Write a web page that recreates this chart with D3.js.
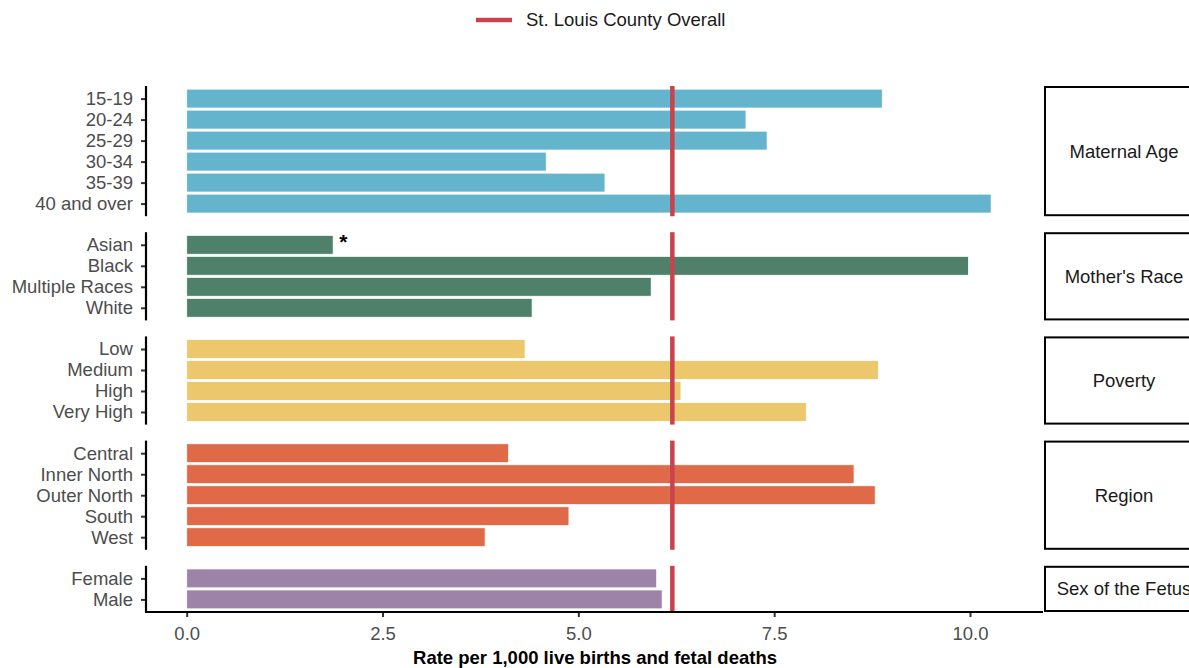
<!DOCTYPE html>
<html><head><meta charset="utf-8">
<script src="https://cdn.jsdelivr.net/npm/d3@7"></script>
<style>body{margin:0;background:#fff}svg{display:block;font-family:"Liberation Sans",Arial,sans-serif}</style>
</head><body>
<svg id="c" width="1189" height="668"></svg>
<script>
const groups = ["Maternal Age","Mother's Race","Poverty","Region","Sex of the Fetus"];
const groupColors = ["#63b4cc","#4f816a","#ecc76c","#e06a48","#9d83a7"];
const maternalAgeCats = ["15-19","20-24","25-29","30-34","35-39","40 and over"];
const maternalAgeVals = [8.88,7.14,7.41,4.59,5.34,10.27];
const raceCats = ["Asian","Black","Multiple Races","White"];
const raceVals = [1.87,9.98,5.93,4.41];
const povertyCats = ["Low","Medium","High","Very High"];
const povertyVals = [4.32,8.83,6.31,7.91];
const regionCats = ["Central","Inner North","Outer North","South","West"];
const regionVals = [4.11,8.52,8.79,4.88,3.81];
const sexCats = ["Female","Male"];
const sexVals = [6.00,6.07];
const flagged = ["Asian"];
const overall = 6.2;
const xTicks = [0,2.5,5,7.5,10];
const xTitle = "Rate per 1,000 live births and fetal deaths";
const legendLabel = "St. Louis County Overall";

(function(){
const panels = [
  {cats:maternalAgeCats, vals:maternalAgeVals},
  {cats:raceCats, vals:raceVals},
  {cats:povertyCats, vals:povertyVals},
  {cats:regionCats, vals:regionVals},
  {cats:sexCats, vals:sexVals}
];

const svg = d3.select("#c");
const pLeft = 146, pRight = 1043, pTop = 86, pBottom = 612, gap = 16;
const x = d3.scaleLinear().domain([0,10]).range([186.7,970]);
const units = d3.sum(panels, p => p.cats.length + 0.2);
const step = (pBottom - pTop - gap*(panels.length-1)) / units;
const red = "#c8434b";
const txt = "#4d4d4d";
const fs = 18.5;

let y0 = pTop;
panels.forEach((p, i) => {
  const h = (p.cats.length + 0.2) * step;
  const y = d3.scalePoint().domain(p.cats).range([y0, y0+h]).padding(0.6);
  const g = svg.append("g");
  const bh = step*0.9;
  g.selectAll("rect.bar").data(p.cats).join("rect")
    .attr("x", x(0)).attr("y", d => y(d)-bh/2)
    .attr("width", (d,j) => x(p.vals[j]) - x(0)).attr("height", bh)
    .attr("fill", groupColors[i]).attr("stroke","#fff").attr("stroke-width",0.8);
  p.cats.forEach((c,j) => {
    if (flagged.includes(c)) {
      g.append("text").attr("x", x(p.vals[j]) + 6).attr("y", y(c)+4)
        .attr("font-size",21).attr("font-weight","bold").attr("fill","#000").text("*");
    }
  });
  g.append("line").attr("x1", x(overall)).attr("x2", x(overall))
    .attr("y1", y0).attr("y2", y0+h).attr("stroke", red).attr("stroke-width", 4.5);
  const ax = g.append("g").attr("transform", `translate(${pLeft},0)`)
    .call(d3.axisLeft(y).tickSize(5).tickPadding(8));
  ax.select(".domain").remove();
  ax.selectAll(".tick line").attr("stroke","#333").attr("stroke-width",2);
  ax.selectAll(".tick text").attr("font-size",fs).attr("fill",txt)
    .attr("font-family","Liberation Sans, Arial, sans-serif");
  g.append("line").attr("x1",pLeft).attr("x2",pLeft).attr("y1",y0).attr("y2",y0+h)
    .attr("stroke","#000").attr("stroke-width",2.2);
  g.append("rect").attr("x",1045).attr("y",y0+1).attr("width",158).attr("height",h-2)
    .attr("fill","#fff").attr("stroke","#000").attr("stroke-width",2);
  g.append("text").attr("x",1124).attr("y",y0+h/2).attr("dy","0.35em")
    .attr("text-anchor","middle").attr("font-size",fs).attr("fill","#1a1a1a").text(groups[i]);
  y0 += h + gap;
});

const xa = svg.append("g").attr("transform",`translate(0,${pBottom})`)
  .call(d3.axisBottom(x).tickValues(xTicks).tickFormat(d3.format(".1f")).tickSize(5).tickPadding(10));
xa.select(".domain").remove();
xa.selectAll(".tick line").attr("stroke","#333").attr("stroke-width",2);
xa.selectAll(".tick text").attr("font-size",fs).attr("fill",txt)
  .attr("font-family","Liberation Sans, Arial, sans-serif");
svg.append("line").attr("x1",pLeft-1).attr("x2",pRight).attr("y1",pBottom).attr("y2",pBottom)
  .attr("stroke","#000").attr("stroke-width",2.2);
svg.append("text").attr("x",595).attr("y",664).attr("text-anchor","middle")
  .attr("font-size",fs).attr("font-weight","bold").attr("fill","#000").text(xTitle);

svg.append("line").attr("x1",476).attr("x2",512).attr("y1",20).attr("y2",20)
  .attr("stroke",red).attr("stroke-width",4.5);
svg.append("text").attr("x",526).attr("y",20).attr("dy","0.35em")
  .attr("font-size",fs).attr("fill","#1a1a1a").text(legendLabel);
})();
</script>
</body></html>
